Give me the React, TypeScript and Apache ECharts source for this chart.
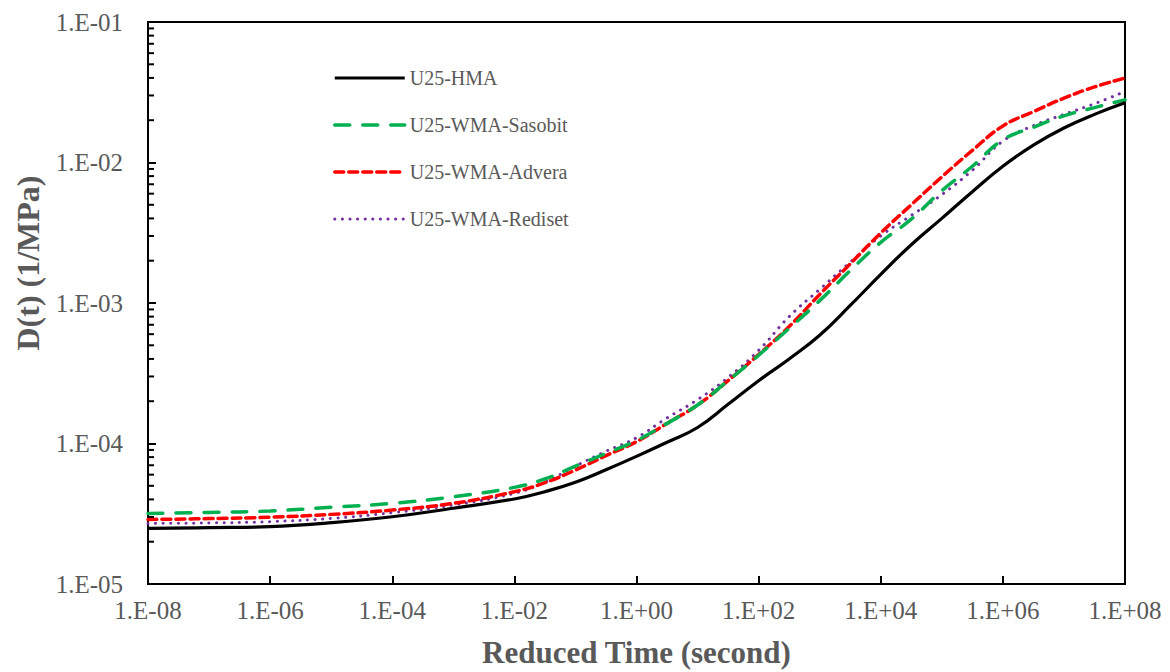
import React, { useEffect, useRef } from "react";
import * as echarts from "echarts";

// Reduced time (s), half-decade grid in the transition zone
const reducedTime = [
  1e-8, 1e-7, 1e-6, 1e-5, 1e-4, 1e-3, 1e-2, 3.162e-2, 1e-1, 3.162e-1, 1, 3.162, 10, 31.62, 100, 316.2,
  1e3, 3162, 1e4, 31623, 1e5, 316228, 1e6, 3162278, 1e7, 31622777, 1e8,
];

const hma = [
  2.49e-5, 2.52e-5, 2.56e-5, 2.73e-5, 3.01e-5, 3.46e-5, 4.03e-5, 4.54e-5, 5.3e-5, 6.5e-5, 8.1e-5, 1.02e-4,
  1.3e-4, 1.9e-4, 2.8e-4, 4.0e-4, 5.9e-4, 9.6e-4, 1.6e-3, 2.6e-3, 4.0e-3, 6.2e-3, 9.4e-3, 1.33e-2,
  1.76e-2, 2.2e-2, 2.66e-2,
];

const sasobit = [
  3.18e-5, 3.23e-5, 3.31e-5, 3.52e-5, 3.75e-5, 4.18e-5, 4.87e-5, 5.6e-5, 6.9e-5, 8.5e-5, 1.05e-4, 1.39e-4,
  1.88e-4, 2.8e-4, 4.25e-4, 6.6e-4, 1.04e-3, 1.7e-3, 2.7e-3, 3.95e-3, 6.3e-3, 9.4e-3, 1.45e-2, 1.78e-2,
  2.15e-2, 2.46e-2, 2.79e-2,
];

const advera = [
  2.88e-5, 2.92e-5, 2.99e-5, 3.13e-5, 3.36e-5, 3.75e-5, 4.54e-5, 5.26e-5, 6.47e-5, 8.2e-5, 1.03e-4, 1.39e-4,
  1.88e-4, 2.8e-4, 4.3e-4, 6.8e-4, 1.15e-3, 1.9e-3, 3.15e-3, 5.0e-3, 7.9e-3, 1.22e-2, 1.82e-2, 2.3e-2,
  2.87e-2, 3.45e-2, 3.99e-2,
];

const rediset = [
  2.7e-5, 2.72e-5, 2.78e-5, 2.93e-5, 3.22e-5, 3.65e-5, 4.42e-5, 5.3e-5, 6.9e-5, 8.8e-5, 1.1e-4, 1.52e-4,
  2.05e-4, 2.95e-4, 4.6e-4, 8.0e-4, 1.25e-3, 1.95e-3, 3.0e-3, 4.2e-3, 5.9e-3, 8.8e-3, 1.42e-2, 1.83e-2,
  2.2e-2, 2.62e-2, 3.2e-2,
];

const seriesNames = ["U25-HMA", "U25-WMA-Sasobit", "U25-WMA-Advera", "U25-WMA-Rediset"];
const seriesColors = ["#000000", "#00B050", "#FF0000", "#7030A0"];

// Log minor tick positions on the y axis (2..9 within each decade)
const yMinorTicks = [
  2e-5, 3e-5, 4e-5, 5e-5, 6e-5, 7e-5, 8e-5, 9e-5,
  2e-4, 3e-4, 4e-4, 5e-4, 6e-4, 7e-4, 8e-4, 9e-4,
  2e-3, 3e-3, 4e-3, 5e-3, 6e-3, 7e-3, 8e-3, 9e-3,
  2e-2, 3e-2, 4e-2, 5e-2, 6e-2, 7e-2, 8e-2, 9e-2,
];

const FONT = "'Liberation Serif', 'Times New Roman', serif";
const GRAY = "#595959";

const lineStyles: any[] = [
  { color: seriesColors[0], width: 3.2, type: "solid" },
  { color: seriesColors[1], width: 3.5, type: [15, 13], cap: "round" },
  { color: seriesColors[2], width: 3.5, type: [9, 5], cap: "round" },
  { color: seriesColors[3], width: 3, type: [0.1, 7.5], cap: "round" },
];

function sciLabel(v: number): string {
  const e = Math.round(Math.log10(v));
  const sign = e < 0 ? "-" : "+";
  return "1.E" + sign + String(Math.abs(e)).padStart(2, "0");
}

function pairs(ys: number[]) {
  return reducedTime.map((x, i) => [x, ys[i]]);
}

export default function App() {
  const ref = useRef<HTMLDivElement>(null);

  useEffect(() => {
    if (!ref.current) return;
    const chart = echarts.init(ref.current, null, { renderer: "svg" });
    const allSeries = [hma, sasobit, advera, rediset];
    chart.setOption({
      animation: false,
      backgroundColor: "#ffffff",
      grid: {
        left: 148,
        right: 45,
        top: 22,
        bottom: 88,
        show: true,
        borderColor: "#000",
        borderWidth: 2,
        backgroundColor: "transparent",
        containLabel: false,
        outerBoundsMode: "none",
      },
      legend: {
        data: seriesNames.map((n, i) => ({
          name: n,
          itemStyle: { opacity: 0 },
          lineStyle: { ...lineStyles[i] },
        })),
        orient: "vertical",
        left: 328,
        top: 63,
        itemWidth: 70,
        itemHeight: 20,
        itemGap: 27,
        itemStyle: { opacity: 0 },
        textStyle: { fontFamily: FONT, fontSize: 20, color: GRAY },
      },
      xAxis: {
        type: "log",
        logBase: 10,
        min: 1e-8,
        max: 1e8,
        interval: 2,
        axisLine: { lineStyle: { color: "#000", width: 2 } },
        axisTick: { inside: true, length: 8, lineStyle: { color: "#000", width: 2 } },
        splitLine: { show: false },
        minorTick: { show: false },
        axisLabel: { formatter: sciLabel, fontFamily: FONT, fontSize: 25, color: GRAY, margin: 14 },
        name: "Reduced Time (second)",
        nameLocation: "middle",
        nameGap: 53,
        nameTextStyle: { fontFamily: FONT, fontWeight: "bold", fontSize: 31, color: GRAY },
      },
      yAxis: {
        type: "log",
        logBase: 10,
        min: 1e-5,
        max: 1e-1,
        interval: 1,
        axisLine: { lineStyle: { color: "#000", width: 2 } },
        axisTick: { inside: true, length: 8, lineStyle: { color: "#000", width: 2 } },
        splitLine: { show: false },
        axisLabel: { formatter: sciLabel, fontFamily: FONT, fontSize: 25, color: GRAY, margin: 25 },
        name: "D(t) (1/MPa)",
        nameLocation: "middle",
        nameGap: 104,
        nameTextStyle: {
          fontFamily: FONT,
          fontWeight: "bold",
          fontSize: 32,
          color: GRAY,
          padding: [0, 0, 0, 80],
        },
      },
      series: [
        ...allSeries.map((ys, i) => ({
          type: "line",
          name: seriesNames[i],
          data: pairs(ys),
          showSymbol: false,
          symbol: "none",
          smooth: 0.45,
          z: 3 + (allSeries.length - i),
          color: seriesColors[i],
          lineStyle: lineStyles[i],
        })),
        {
          type: "custom",
          name: "yMinorTicks",
          silent: true,
          z: 10,
          clip: false,
          data: yMinorTicks.map((v) => [1e-8, v]),
          renderItem: (_params: any, api: any) => {
            const p = api.coord([api.value(0), api.value(1)]);
            return {
              type: "line",
              shape: { x1: p[0], y1: p[1], x2: p[0] + 6, y2: p[1] },
              style: { stroke: "#000", lineWidth: 2 },
            };
          },
        },
      ],
    });
    return () => chart.dispose();
  }, []);

  return (
    <div
      ref={ref}
      style={{ position: "absolute", left: 0, top: 0, width: 1170, height: 672, background: "#fff" }}
    />
  );
}
